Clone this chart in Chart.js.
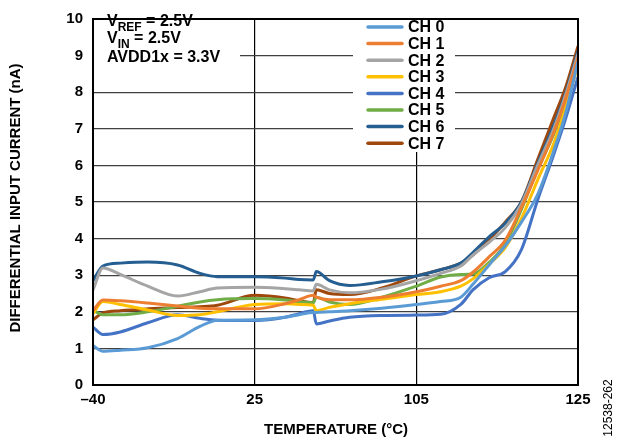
<!DOCTYPE html>
<html>
<head>
<meta charset="utf-8">
<script src="https://cdn.jsdelivr.net/npm/chart.js@4.4.1/dist/chart.umd.min.js"></script>
<style>
  html, body { margin: 0; padding: 0; background: #fff; }
</style>
</head>
<body>
<canvas id="chart" width="619" height="442"></canvas>
<script>
// temperatures (°C) where the curves were read
const temps = [-40, -36, -29, -18, -6, 3, 10, 25, 40, 47, 54, 55.5, 62, 72, 88, 105, 108, 110.5, 112, 114, 116, 118, 120, 122, 123.5, 125];
// the x axis is evenly spaced between these labels
const xTicks = [-40, 25, 105, 125];

// differential input current, nA
const ch0 = [1.08, 0.92, 0.95, 1.02, 1.27, 1.6, 1.77, 1.78, 1.85, 1.92, 1.98, 1.98, 2.0, 2.03, 2.1, 2.2, 2.28, 2.4, 2.75, 3.28, 3.8, 4.45, 5.2, 6.4, 7.45, 8.85];
const ch1 = [2.03, 2.32, 2.3, 2.24, 2.16, 2.1, 2.08, 2.08, 2.22, 2.33, 2.45, 2.4, 2.33, 2.33, 2.4, 2.55, 2.7, 2.85, 3.08, 3.5, 3.95, 4.85, 5.85, 6.9, 7.85, 8.95];
const ch2 = [2.6, 3.2, 3.02, 2.7, 2.43, 2.55, 2.65, 2.67, 2.63, 2.6, 2.57, 2.75, 2.6, 2.52, 2.62, 2.85, 3.05, 3.25, 3.55, 3.9, 4.3, 4.95, 6.0, 7.0, 7.95, 9.05];
const ch3 = [1.95, 2.28, 2.2, 2.05, 1.9, 1.92, 2.0, 2.2, 2.22, 2.2, 2.18, 2.03, 2.12, 2.22, 2.34, 2.47, 2.55, 2.7, 2.9, 3.3, 3.75, 4.55, 5.6, 6.6, 7.6, 8.75];
const ch4 = [1.58, 1.38, 1.45, 1.7, 1.92, 1.82, 1.77, 1.76, 1.85, 1.95, 2.03, 1.67, 1.75, 1.85, 1.9, 1.91, 1.93, 2.2, 2.6, 2.93, 3.1, 3.7, 5.05, 6.3, 7.3, 8.42];
const ch5 = [2.05, 1.92, 1.92, 2.0, 2.15, 2.27, 2.33, 2.36, 2.32, 2.28, 2.25, 2.4, 2.27, 2.2, 2.4, 2.7, 2.95, 3.02, 3.03, 3.35, 3.85, 4.8, 5.9, 6.85, 7.8, 8.88];
const ch6 = [2.85, 3.25, 3.33, 3.36, 3.28, 3.05, 2.96, 2.96, 2.92, 2.88, 2.87, 3.1, 2.85, 2.72, 2.82, 2.98, 3.15, 3.33, 3.62, 4.05, 4.42, 5.0, 6.05, 7.1, 8.0, 9.13];
const ch7 = [1.78, 1.97, 2.03, 2.08, 2.12, 2.14, 2.18, 2.45, 2.38, 2.3, 2.25, 2.6, 2.5, 2.47, 2.65, 2.98, 3.15, 3.33, 3.55, 3.97, 4.45, 5.0, 6.15, 7.3, 8.15, 9.26];

const seriesNames = ['CH 0', 'CH 1', 'CH 2', 'CH 3', 'CH 4', 'CH 5', 'CH 6', 'CH 7'];
const seriesValues = [ch0, ch1, ch2, ch3, ch4, ch5, ch6, ch7];
const seriesColors = ['#5B9BD5', '#ED7D31', '#A5A5A5', '#FFC000', '#4472C4', '#70AD47', '#255E91', '#9E480E'];

const FONT = "'Liberation Sans', Arial, sans-serif";

// map a temperature onto the evenly spaced label positions
function toPos(t) {
  for (let i = 0; i < xTicks.length - 1; i++) {
    if (t <= xTicks[i + 1]) {
      return i + (t - xTicks[i]) / (xTicks[i + 1] - xTicks[i]);
    }
  }
  return xTicks.length - 1;
}

const datasets = seriesValues.map((vals, i) => ({
  label: seriesNames[i],
  data: temps.map((t, j) => ({x: toPos(t), y: vals[j]})),
  borderColor: seriesColors[i],
  backgroundColor: seriesColors[i],
  borderWidth: 3,
  pointRadius: 0,
  cubicInterpolationMode: 'monotone',
  fill: false
}));

const decorations = {
  id: 'decorations',
  afterDatasetsDraw(chart) {
    const {ctx, chartArea: {left, top, width, height}} = chart;
    ctx.save();

    // white boxes behind the notes and the legend
    ctx.fillStyle = '#fff';
    ctx.fillRect(left + 1, top + 1, 146, 60);
    ctx.fillRect(353, 14, 102, 138);

    // conditions note
    ctx.fillStyle = '#000';
    ctx.textBaseline = 'alphabetic';
    ctx.textAlign = 'left';
    const big = 'bold 16px ' + FONT;
    const small = 'bold 12px ' + FONT;
    function sub(x, y, main, low, rest) {
      ctx.font = big;
      ctx.fillText(main, x, y);
      x += ctx.measureText(main).width;
      ctx.font = small;
      ctx.fillText(low, x, y + 5);
      x += ctx.measureText(low).width;
      ctx.font = big;
      ctx.fillText(rest, x, y);
    }
    sub(107, 26, 'V', 'REF', ' = 2.5V');
    sub(107, 43, 'V', 'IN', ' = 2.5V');
    ctx.font = big;
    ctx.fillText('AVDD1x = 3.3V', 107, 62);

    // legend
    chart.data.datasets.forEach((ds, i) => {
      const y = 27 + i * 16.6;
      ctx.strokeStyle = ds.borderColor;
      ctx.lineWidth = 3.5;
      ctx.lineCap = 'round';
      ctx.beginPath();
      ctx.moveTo(368, y);
      ctx.lineTo(402, y);
      ctx.stroke();
      ctx.fillStyle = '#000';
      ctx.font = big;
      ctx.textBaseline = 'middle';
      ctx.fillText(ds.label, 408, y + 1);
    });

    // plot frame
    ctx.strokeStyle = '#000';
    ctx.lineWidth = 2;
    ctx.lineCap = 'butt';
    ctx.strokeRect(left, top, width, height);

    // axis titles
    ctx.fillStyle = '#000';
    ctx.textAlign = 'center';
    ctx.textBaseline = 'middle';
    ctx.font = 'bold 15px ' + FONT;
    ctx.fillText('TEMPERATURE (°C)', 336, 430);
    ctx.save();
    ctx.translate(16, 198);
    ctx.rotate(-Math.PI / 2);
    ctx.fillText('DIFFERENTIAL INPUT CURRENT (nA)', 0, 0);
    ctx.restore();

    ctx.save();
    ctx.translate(609, 408);
    ctx.rotate(-Math.PI / 2);
    ctx.font = '12px ' + FONT;
    ctx.fillText('12538-262', 0, 0);
    ctx.restore();

    ctx.restore();
  }
};

new Chart(document.getElementById('chart'), {
  type: 'line',
  data: {datasets: datasets},
  options: {
    responsive: false,
    animation: false,
    devicePixelRatio: 1,
    layout: {padding: {top: 7, right: 41, left: 0, bottom: 0}},
    plugins: {legend: {display: false}, tooltip: {enabled: false}},
    scales: {
      x: {
        type: 'linear',
        min: 0,
        max: xTicks.length - 1,
        afterFit(scale) { scale.height = 57; },
        ticks: {
          stepSize: 1,
          padding: 6,
          color: '#000',
          font: {family: FONT, size: 15, weight: 'bold'},
          callback: (v) => Number.isInteger(v) ? String(xTicks[v]).replace('-', '\u2013') : ''
        },
        grid: {color: '#000', lineWidth: 1.2, drawTicks: false},
        border: {display: false}
      },
      y: {
        min: 0,
        max: 10,
        afterFit(scale) { scale.width = 93; },
        ticks: {
          stepSize: 1,
          padding: 10,
          color: '#000',
          font: {family: FONT, size: 15, weight: 'bold'}
        },
        grid: {color: '#404040', lineWidth: 1.3, drawTicks: false},
        border: {display: false}
      }
    }
  },
  plugins: [decorations]
});
</script>
</body>
</html>
